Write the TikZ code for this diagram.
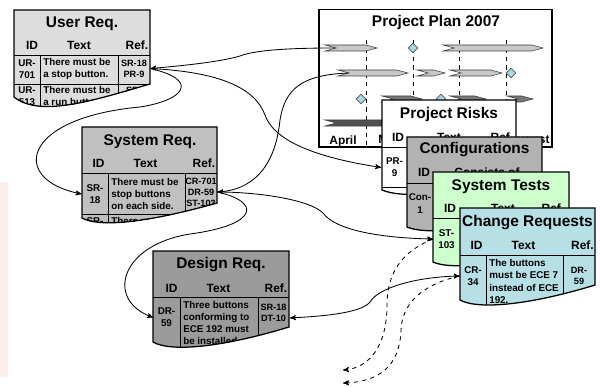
\documentclass[tikz,border=0pt]{standalone}
\usepackage{fontspec}
\setmainfont{Liberation Sans}
\usepackage{tikz}
\usetikzlibrary{arrows,shapes,shapes.geometric,shapes.symbols}

\definecolor{urgray}{RGB}{221,221,221}
\definecolor{srgray}{RGB}{192,192,192}
\definecolor{drgray}{RGB}{155,155,155}
\definecolor{cfgray}{RGB}{178,178,178}
\definecolor{stgreen}{RGB}{204,255,204}
\definecolor{crcyan}{RGB}{183,223,230}
\definecolor{barlight}{RGB}{200,200,200}
\definecolor{barmid}{RGB}{120,120,120}
\definecolor{bardark}{RGB}{80,80,80}
\definecolor{mstone}{RGB}{168,216,224}
\definecolor{sidepink}{RGB}{252,239,235}

\tikzstyle{ttitle}=[inner sep=0,font=\fontsize{11}{12}\selectfont\bfseries]
\tikzstyle{thead}=[inner sep=0,font=\fontsize{8.5}{10}\selectfont\bfseries]
\tikzstyle{tbody}=[inner sep=0,anchor=west,align=left,font=\fontsize{7}{8.7}\selectfont\bfseries]
\tikzstyle{idcell}=[inner sep=0,minimum width=0.65cm,align=center,font=\fontsize{7}{8.7}\selectfont\bfseries]
\tikzstyle{refcell}=[inner sep=0,minimum width=0.8cm,align=center,font=\fontsize{6.5}{7.8}\selectfont\bfseries]
\tikzstyle{tbox}=[line width=0.9pt]
\tikzstyle{tgrid}=[line width=0.6pt]
\tikzstyle{tbar}=[signal,signal to=east,signal from=west,signal pointer angle=30,draw=black!75,line width=0.4pt,inner sep=0,minimum height=0.15cm]
\tikzstyle{tmile}=[diamond,draw=black!80,fill=mstone,line width=0.4pt,inner sep=0,minimum size=0.24cm]
\tikzstyle{tlink}=[->,>=stealth',line width=0.6pt]

% outline of a requirement sheet with a torn lower edge
\newcommand{\tablepath}[7]{(#1,#2) -- (#3,#2) -- (#3,#4) .. controls (#5) and (#6) .. (#1,#7) -- cycle}

\begin{document}
\begin{tikzpicture}[x=0.025cm,y=-0.025cm]

  \useasboundingbox (0,0) rectangle (600,387);
  \fill[sidepink] (0,182) rectangle (8,377);

  % user requirements
  \fill[urgray] \tablepath{14}{10}{150}{84}{95,100}{40,118}{97};
  \begin{scope}
    \clip \tablepath{14}{10}{150}{84}{95,100}{40,118}{97};
    \draw[tgrid] (14,55) -- (150,55) (40,55) -- (40,120) (118,55) -- (118,120) (14,84) -- (150,84);
    \node[ttitle] (ur-title) at (82,24) {User Req.};
    \node[thead] (ur-hid) at (32,45) {ID};
    \node[thead] (ur-htext) at (79,45) {Text};
    \node[thead] (ur-href) at (137,45) {Ref.};
    \node[idcell] (ur701) at (27,69) {UR-\\701};
    \node[tbody] (ur701-text) at (43,69) {There must be\\a stop button.};
    \node[refcell] (ur701-ref) at (134,68.5) {SR-18\\PR-9};
    \node[idcell] (ur513) at (27,96) {UR-\\513};
    \node[tbody] (ur513-text) at (43,96) {There must be\\a run button.};
    \node[refcell] (ur513-ref) at (134,90) {SR-};
  \end{scope}
  \draw[tbox] \tablepath{14}{10}{150}{84}{95,100}{40,118}{97};

  % system requirements
  \fill[srgray] \tablepath{82}{127}{217}{203}{150,222}{100,228}{218};
  \begin{scope}
    \clip \tablepath{82}{127}{217}{203}{150,222}{100,228}{218};
    \draw[tgrid] (82,173) -- (217,173) (108,173) -- (108,240) (185,173) -- (185,240) (82,214) -- (217,214);
    \node[ttitle] (sr-title) at (150,142) {System Req.};
    \node[thead] (sr-hid) at (98.5,163) {ID};
    \node[thead] (sr-htext) at (145.5,163) {Text};
    \node[thead] (sr-href) at (204,163) {Ref.};
    \node[idcell] (sr18) at (95,194) {SR-\\18};
    \node[tbody] (sr18-text) at (111,194) {There must be\\stop buttons\\on each side.};
    \node[refcell] (sr18-ref) at (201,192) {CR-701\\DR-59\\ST-103};
    \node[idcell] (sr19) at (95,221) {SR-};
    \node[tbody] (sr19-text) at (111,221) {There must be};
  \end{scope}
  \draw[tbox] \tablepath{82}{127}{217}{203}{150,222}{100,228}{218};

  % design requirements
  \fill[drgray] \tablepath{153}{251}{289}{327}{220,348}{170,352}{342};
  \begin{scope}
    \clip \tablepath{153}{251}{289}{327}{220,348}{170,352}{342};
    \draw[tgrid] (153,297) -- (289,297) (180,297) -- (180,360) (258,297) -- (258,360);
    \node[ttitle] (dr-title) at (221,265) {Design Req.};
    \node[thead] (dr-hid) at (171.5,288) {ID};
    \node[thead] (dr-htext) at (218.5,288) {Text};
    \node[thead] (dr-href) at (276,288) {Ref.};
    \node[idcell] (dr59) at (166.5,317.5) {DR-\\59};
    \node[tbody] (dr59-text) at (183,323) {Three buttons\\conforming to\\ECE 192 must\\be installed.};
    \node[refcell] (dr59-ref) at (273.5,313) {SR-18\\DT-10};
  \end{scope}
  \draw[tbox] \tablepath{153}{251}{289}{327}{220,348}{170,352}{342};

  % project plan
  \filldraw[line width=1.1pt,fill=white] (319,9.5) rectangle (552,147);
  \node[ttitle] (pp-title) at (436,23) {Project Plan 2007};
  \foreach \x in {366,413,459,506}
    \draw[dashed,line width=0.5pt] (\x,40) -- (\x,147);
  \node[tbar,fill=barlight,minimum width=1.3cm] (bar1) at (351,48) {};
  \node[tbar,fill=barlight,minimum width=2.5cm] (bar1b) at (493,48) {};
  \node[tbar,fill=barlight,minimum width=1.75cm] (bar2) at (373,73) {};
  \node[tbar,fill=barlight,minimum width=0.7cm] (bar2b) at (431,73) {};
  \node[tbar,fill=barlight,minimum width=1.3cm] (bar2c) at (476,73) {};
  \node[tbar,fill=barmid,minimum width=1cm] (bar3) at (402,99) {};
  \node[tbar,fill=barmid,minimum width=0.9cm] (bar3b) at (468,99) {};
  \node[tbar,fill=barmid,minimum width=0.65cm] (bar3c) at (520,99) {};
  \node[tbar,fill=bardark,minimum width=2.4cm] (bar4) at (373,123) {};
  \node[tmile] (m1) at (413,48) {};
  \node[tmile] (m2) at (511,73) {};
  \node[tmile] (m3) at (361,99) {};
  \node[tmile] (m4) at (441,99) {};
  \node[thead] (apr) at (343,141) {April};
  \node[thead] (may) at (390,141) {May};
  \node[thead] (jun) at (436,141) {June};
  \node[thead] (jul) at (483,141) {July};
  \node[thead] (aug) at (529,141) {August};

  % project risks
  \fill[white] \tablepath{382}{100}{516}{180}{450,196}{400,198}{190};
  \begin{scope}
    \clip \tablepath{382}{100}{516}{180}{450,196}{400,198}{190};
    \draw[tgrid] (382,147) -- (516,147) (407,147) -- (407,200) (484,147) -- (484,200) (382,187) -- (516,187);
    \node[ttitle] (pr-title) at (449,115) {Project Risks};
    \node[thead] (pr-hid) at (398,137) {ID};
    \node[thead] (pr-htext) at (449,137) {Text};
    \node[thead] (pr-href) at (502,137) {Ref.};
    \node[idcell] (pr9) at (394.5,167.5) {PR-\\9};
  \end{scope}
  \draw[tbox] \tablepath{382}{100}{516}{180}{450,196}{400,198}{190};

  % configurations
  \fill[cfgray] \tablepath{407}{137}{542}{215}{475,230}{425,235}{227};
  \begin{scope}
    \clip \tablepath{407}{137}{542}{215}{475,230}{425,235}{227};
    \draw[tgrid] (407,183) -- (542,183) (433,183) -- (433,240);
    \node[ttitle] (cf-title) at (474.5,150) {Configurations};
    \node[thead] (cf-hid) at (424,172) {ID};
    \node[thead] (cf-htext) at (487,172) {Consists of};
    \node[idcell] (con1) at (420,203.5) {Con-\\1};
  \end{scope}
  \draw[tbox] \tablepath{407}{137}{542}{215}{475,230}{425,235}{227};

  % system tests
  \fill[stgreen] \tablepath{433}{172}{569}{250}{500,265}{450,270}{262};
  \begin{scope}
    \clip \tablepath{433}{172}{569}{250}{500,265}{450,270}{262};
    \draw[tgrid] (433,218) -- (569,218) (460,218) -- (460,275) (537,218) -- (537,275);
    \node[ttitle] (st-title) at (501,187) {System Tests};
    \node[thead] (st-hid) at (450,208) {ID};
    \node[thead] (st-htext) at (503,208) {Text};
    \node[thead] (st-href) at (553,208) {Ref.};
    \node[idcell] (st103) at (446.5,239) {ST-\\103};
  \end{scope}
  \draw[tbox] \tablepath{433}{172}{569}{250}{500,265}{450,270}{262};

  % change requests
  \fill[crcyan] \tablepath{460}{208}{595}{285}{530,305}{478,310}{300};
  \begin{scope}
    \clip \tablepath{460}{208}{595}{285}{530,305}{478,310}{300};
    \draw[tgrid] (460,255) -- (595,255) (486,255) -- (486,320) (563,255) -- (563,320);
    \node[ttitle] (cr-title) at (527.5,223) {Change Requests};
    \node[thead] (cr-hid) at (476.5,245) {ID};
    \node[thead] (cr-htext) at (523.5,245) {Text};
    \node[thead] (cr-href) at (582.5,245) {Ref.};
    \node[idcell] (cr34) at (473,276) {CR-\\34};
    \node[tbody] (cr34-text) at (489,281.5) {The buttons\\must be ECE 7\\instead of ECE\\192.};
    \node[refcell] (cr34-ref) at (579,276) {DR-\\59};
  \end{scope}
  \draw[tbox] \tablepath{460}{208}{595}{285}{530,305}{478,310}{300};

  % trace links
  \coordinate (out1) at (343,370);
  \coordinate (out2) at (343,383);

  \draw[tlink] (bar1.west) .. controls (290,48) and (255,50) .. (240,56) .. controls (220,62) and (180,66) .. (ur701-ref.east);
  \draw[tlink] (ur701-ref.east) .. controls (220,72) and (255,88) .. (265,115) .. controls (272,135) and (300,155) .. (pr9.west);
  \draw[tlink] (ur701-ref.east) .. controls (200,80) and (185,100) .. (140,107) .. controls (20,118) and (10,180) .. (sr18.west);
  \draw[tlink] (bar2.west) .. controls (300,75) and (285,90) .. (280,120) .. controls (275,170) and (250,190) .. (sr18-ref.east);
  \draw[tlink] (sr18-ref.east) .. controls (260,192) and (310,200) .. (323,213) .. controls (335,230) and (380,238) .. (st103.west);
  \draw[tlink] (sr18-ref.east) .. controls (262,202) and (258,225) .. (190,234) .. controls (120,245) and (105,300) .. (dr59.west);
  \draw[tlink,<->] ([yshift=-3.5pt]dr59-ref.east) .. controls (330,316) and (362,312) .. (370,302) .. controls (378,288) and (415,277) .. (cr34.west);

  \draw[tlink,dashed] (st103.west) .. controls (400,252) and (387,275) .. (387,305) .. controls (387,345) and (370,368) .. (out1);
  \draw[tlink,dashed] (cr34.west) .. controls (420,285) and (402,305) .. (401,330) .. controls (400,365) and (380,382) .. (out2);

\end{tikzpicture}
\end{document}
